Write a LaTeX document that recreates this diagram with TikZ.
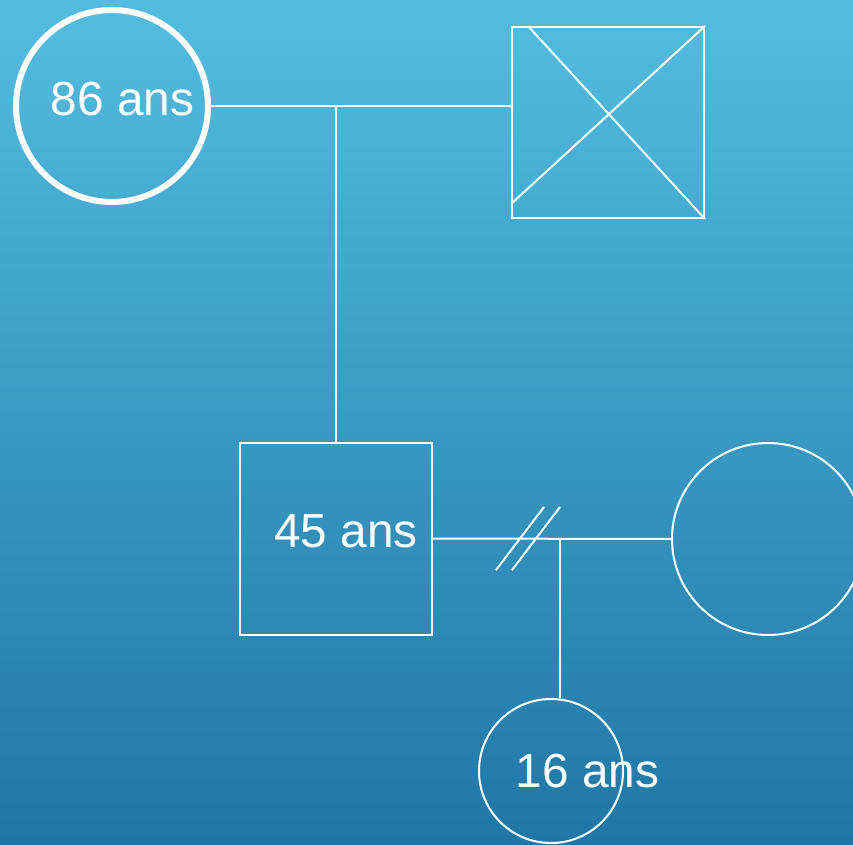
\documentclass[tikz,border=0pt]{standalone}
\usepackage{fontspec}
\setmainfont{Liberation Sans}
\usepackage{tikz}
\usetikzlibrary{positioning, calc}
\definecolor{SkyTop}{RGB}{84,189,223}
\definecolor{SkyBottom}{RGB}{32,118,166}

\begin{document}
\begin{tikzpicture}[x=0.2mm, y=-0.2mm,
    line width=0.4mm, color=white,
    woman/.style={circle, draw=white, inner sep=0pt, minimum size=38.4mm},
    man/.style={rectangle, draw=white, inner sep=0pt, minimum size=38.4mm},
    age/.style={text=white, anchor=base, font=\fontsize{27.2}{30}\selectfont, inner sep=0pt}]
      \useasboundingbox (0,0) rectangle (853,844);
      \clip (0,0) rectangle (853,844);
      \shade[top color=SkyTop, bottom color=SkyBottom] (0,0) rectangle (853,844);

      % grandparents
      \node[woman, line width=1.2mm] (gm) at (112,106) {};
      \node[man, minimum height=38.2mm] (gf) at (608,122.5) {};
      \draw (gf.north east) -- ($(gf.south west)+(0,-15)$);
      \draw ($(gf.north west)+(17,0)$) -- (gf.south east);
      \draw (gm.east) -- (gf.west |- gm.east);
      \coordinate (c1) at (336,106);

      % parents
      \node[man] (father) at (336,538.5) {};
      \node[woman] (mother) at (768,539) {};
      \draw (c1) -- (father.north);
      \draw (father.east) -- (mother.west);
      \draw (496,570) -- (544,507);
      \draw (512,570) -- (560,507);
      \coordinate (c2) at (560,539);

      % child
      \node[woman, minimum size=28.8mm] (child) at (551,771) {};
      \draw (c2) -- (c2 |- child.north);

      % ages
      \node[age] (gmage) at (122.5,115) {86 ans};
      \node[age] (fatherage) at (346,547) {45 ans};
      \node[age] (childage) at (587.5,787) {16 ans};
    \end{tikzpicture}
\end{document}
